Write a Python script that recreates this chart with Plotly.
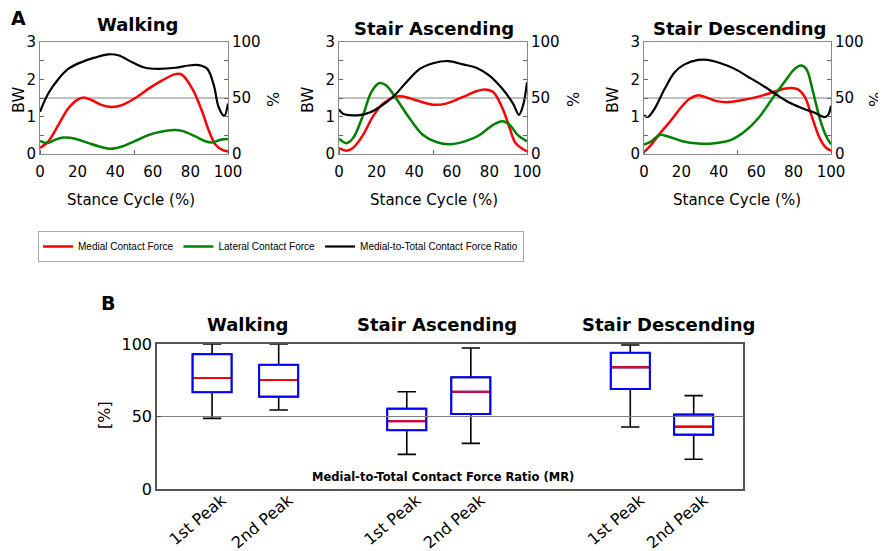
import plotly.graph_objects as go

# ---------------- Panel A data ----------------
walk_med_x = [0, 4.4, 9.8, 15, 20.5, 23.7, 27.6, 33, 38, 43.6, 50.7, 57.8, 65, 72, 75.6, 81, 86.3, 90, 93.4, 97, 100]
walk_med_y = [0.16, 0.34, 0.78, 1.22, 1.47, 1.51, 1.44, 1.31, 1.26, 1.31, 1.50, 1.75, 1.97, 2.14, 2.12, 1.75, 1.13, 0.60, 0.25, 0.11, 0.07]
walk_lat_x = [0, 3.6, 8, 12.5, 18.7, 25.8, 33, 37.4, 43.6, 50.7, 57.8, 65, 71, 75.6, 82.7, 88, 91.6, 96, 100]
walk_lat_y = [0.35, 0.29, 0.38, 0.44, 0.41, 0.29, 0.18, 0.14, 0.20, 0.35, 0.51, 0.60, 0.64, 0.62, 0.47, 0.34, 0.31, 0.38, 0.40]
walk_mr_x = [0, 4.4, 9.8, 15, 22, 29, 36.5, 42, 49, 56, 63, 72, 79, 84.5, 89, 92.5, 95, 98, 100]
walk_mr_y = [37.7, 54, 67, 76, 82, 86, 89, 88, 82, 77, 76, 77, 79, 79.4, 76, 61, 42, 34, 45]

asc_med_x = [0, 3.9, 7.4, 12.8, 18, 23.4, 29.6, 34, 41, 50, 57, 66, 73, 77.5, 82, 87, 90.8, 94, 100]
asc_med_y = [0.16, 0.09, 0.16, 0.51, 1.00, 1.35, 1.53, 1.54, 1.44, 1.32, 1.35, 1.53, 1.68, 1.73, 1.66, 1.22, 0.69, 0.29, 0.07]
asc_lat_x = [0, 3.9, 7.4, 12.8, 17.2, 21.6, 25, 30.5, 37.6, 44.7, 51.8, 58.9, 67.7, 74.8, 82, 87, 90.8, 95, 100]
asc_lat_y = [0.41, 0.29, 0.42, 1.04, 1.66, 1.90, 1.84, 1.48, 0.95, 0.51, 0.32, 0.26, 0.35, 0.51, 0.78, 0.88, 0.78, 0.51, 0.34]
asc_mr_x = [0, 2, 5.7, 11, 16.3, 21.6, 28.7, 35.8, 43, 50, 58, 66, 73, 80, 87, 92.6, 95.7, 98, 100]
asc_mr_y = [40, 36, 34.7, 34.7, 37, 42, 51, 64, 76, 81, 83, 80, 77, 70, 58, 45, 35, 44, 64]

desc_med_x = [0, 3.9, 9.3, 14.6, 20, 24.4, 28.5, 32.4, 39.6, 45, 52, 59, 68, 75, 78.8, 82.4, 86, 89.5, 94, 97.5, 100]
desc_med_y = [0.05, 0.25, 0.60, 0.91, 1.26, 1.48, 1.57, 1.53, 1.41, 1.39, 1.44, 1.51, 1.64, 1.75, 1.77, 1.73, 1.53, 1.04, 0.42, 0.16, 0.09]
desc_lat_x = [0, 3.9, 8.4, 12.8, 20, 29, 37.8, 46.7, 53.8, 61, 68, 75, 80.6, 84, 86.8, 90.4, 94, 97.5, 100]
desc_lat_y = [0.25, 0.34, 0.51, 0.47, 0.35, 0.28, 0.29, 0.38, 0.60, 0.95, 1.44, 1.92, 2.28, 2.37, 2.28, 1.66, 0.95, 0.47, 0.26]
desc_mr_x = [0, 2, 5.7, 11, 16.4, 21.7, 29, 34, 41, 48.5, 55.6, 64.5, 71.7, 78.8, 86, 91, 96.6, 98.4, 100]
desc_mr_y = [34.7, 33, 40.6, 58, 73, 80, 84, 84, 81, 76, 69, 60, 52, 45, 40, 37, 33, 34.7, 43]

panel_titles = ["Walking", "Stair Ascending", "Stair Descending"]
series_names = ["Medial Contact Force", "Lateral Contact Force", "Medial-to-Total Contact Force Ratio"]
x_ticks = [0, 20, 40, 60, 80, 100]

# ---------------- Panel B data ----------------
box_labels = ["1st Peak", "2nd Peak", "1st Peak", "2nd Peak", "1st Peak", "2nd Peak"]
box_q1 = [66.7, 63.7, 40.5, 51.7, 69.0, 37.5]
box_median = [76.5, 75.2, 46.7, 67.1, 83.9, 43.0]
box_q3 = [93.0, 85.7, 55.4, 77.0, 94.0, 51.3]
box_low = [48.7, 54.5, 23.9, 31.5, 42.8, 20.5]
box_high = [100.0, 100.0, 67.1, 97.2, 99.3, 64.4]

# layout-only values
box_pos = [0.86, 1.9, 3.9, 4.9, 7.39, 8.38]
box_w = 0.61

RED = "#ff0000"
GREEN = "#008000"
BLACK = "#000000"
BLUE = "#0000ff"
FONT = "DejaVu Sans"

# page has an 8px body margin: figure is placed at (8, 8)
OFF = 8
W, H = 886 - OFF, 551 - OFF
def px(X):
    return (X - OFF) / W
def py(Y):
    return 1 - (Y - OFF) / H

fig = go.Figure()

panels = [
    (walk_med_x, walk_med_y, walk_lat_x, walk_lat_y, walk_mr_x, walk_mr_y),
    (asc_med_x, asc_med_y, asc_lat_x, asc_lat_y, asc_mr_x, asc_mr_y),
    (desc_med_x, desc_med_y, desc_lat_x, desc_lat_y, desc_mr_x, desc_mr_y),
]

x_domains = [[px(40), px(228)], [px(339), px(527)], [px(644), px(831)]]
yA = [py(154), py(42)]

for i, (mx, my, lx, ly, rx, ry) in enumerate(panels):
    xa = f"x{i+1}" if i else "x"
    ya = f"y{2*i+1}" if i else "y"
    yr = f"y{2*i+2}"
    fig.add_trace(go.Scatter(x=[0, 100], y=[1.5, 1.5], mode="lines", line=dict(color="#808080", width=1),
                             xaxis=xa, yaxis=ya, showlegend=False, hoverinfo="skip"))
    fig.add_trace(go.Scatter(x=mx, y=my, mode="lines", line=dict(color=RED, width=2.5, shape="spline"),
                             name=series_names[0], legendgroup="m", showlegend=(i == 0), xaxis=xa, yaxis=ya))
    fig.add_trace(go.Scatter(x=lx, y=ly, mode="lines", line=dict(color=GREEN, width=2.5, shape="spline"),
                             name=series_names[1], legendgroup="l", showlegend=(i == 0), xaxis=xa, yaxis=ya))
    fig.add_trace(go.Scatter(x=rx, y=ry, mode="lines", line=dict(color=BLACK, width=2.2, shape="spline"),
                             name=series_names[2], legendgroup="r", showlegend=(i == 0), xaxis=xa, yaxis=yr))

axis_common = dict(showgrid=False, zeroline=False, showline=True, linecolor="#8a8a8a", linewidth=1,
                   automargin=False, tickfont=dict(family=FONT, size=15, color="black"))

for i in range(3):
    xk = "xaxis" if i == 0 else f"xaxis{i+1}"
    yk = "yaxis" if i == 0 else f"yaxis{2*i+1}"
    yrk = f"yaxis{2*i+2}"
    ya_name = "y" if i == 0 else f"y{2*i+1}"
    xa_name = "x" if i == 0 else f"x{i+1}"
    fig.layout[xk] = dict(axis_common, domain=x_domains[i], range=[0, 100], anchor=ya_name,
                          tickvals=x_ticks, ticks="", mirror=True,
                          minor=dict(tick0=0, dtick=50, ticks="inside", ticklen=4, tickcolor="#666"),
                          ticklabelstandoff=4)
    fig.layout[yk] = dict(axis_common, domain=yA, range=[0, 3], anchor=xa_name,
                          tickvals=[0, 1, 2, 3], ticks="inside", ticklen=4, tickcolor="#666", mirror="ticks",
                          minor=dict(dtick=0.5, ticks="inside", ticklen=4, tickcolor="#666"))
    fig.layout[yrk] = dict(axis_common, range=[0, 100], overlaying=ya_name, side="right", anchor=xa_name,
                           tickvals=[0, 50, 100], ticks="")

# ---------------- Panel B traces ----------------
fig.add_trace(go.Scatter(x=[0, 9.15], y=[50, 50], mode="lines", line=dict(color="#808080", width=1),
                         xaxis="x4", yaxis="y7", showlegend=False, hoverinfo="skip"))
fig.add_trace(go.Box(x=box_pos, q1=box_q1, median=box_median, q3=box_q3, lowerfence=box_low, upperfence=box_high,
                     width=box_w, whiskerwidth=0.47, line=dict(color=BLACK, width=1.6),
                     fillcolor="rgba(0,0,0,0)", xaxis="x4", yaxis="y7", showlegend=False, boxpoints=False))
fig.add_trace(go.Box(x=box_pos, q1=box_q1, median=box_median, q3=box_q3, lowerfence=box_q1, upperfence=box_q3,
                     width=box_w, whiskerwidth=1, line=dict(color=BLUE, width=2),
                     fillcolor="rgba(255,255,255,0)", xaxis="x4", yaxis="y7", showlegend=False, boxpoints=False))
med_x, med_y = [], []
for p, m in zip(box_pos, box_median):
    med_x += [p - box_w/2 + 0.02, p + box_w/2 - 0.02, None]
    med_y += [m, m, None]
fig.add_trace(go.Scatter(x=med_x, y=med_y, mode="lines", line=dict(color=RED, width=2),
                         xaxis="x4", yaxis="y7", showlegend=False, hoverinfo="skip"))

fig.layout["xaxis4"] = dict(showgrid=False, zeroline=False, showline=True, linecolor="#555", linewidth=1.5, mirror=True,
                            automargin=False,
                            domain=[px(157), px(743)], range=[0, 9.15], anchor="y7",
                            tickvals=box_pos, ticktext=box_labels, tickangle=-40, ticks="",
                            ticklabelstandoff=-6, ticklabelshift=10,
                            tickfont=dict(family=FONT, size=16, color="black"))
fig.layout["yaxis7"] = dict(showgrid=False, zeroline=False, showline=True, linecolor="#555", linewidth=1.5, mirror=True,
                            automargin=False,
                            domain=[py(489), py(344)], range=[0, 100], anchor="x4",
                            tickvals=[0, 50, 100], ticks="inside", ticklen=4, tickcolor="#555",
                            tickfont=dict(family=FONT, size=16, color="black"))

# ---------------- Annotations ----------------
ann = []
def txt(x, y, s, size, bold=False, angle=0):
    ann.append(dict(x=px(x), y=py(y), xref="paper", yref="paper", text=(f"<b>{s}</b>" if bold else s),
                    showarrow=False, font=dict(family=FONT, size=size, color="black"), textangle=angle,
                    xanchor="center", yanchor="middle"))

txt(18, 18, "A", 19, True)
txt(137, 24, panel_titles[0], 18, True)
txt(434, 28, panel_titles[1], 18, True)
txt(739, 28, panel_titles[2], 18, True)
for cx in (18, 307, 612):
    txt(cx, 100, "BW", 16, angle=-90)
for cx in (273, 573, 875):
    txt(cx, 100, "%", 16, angle=-90)
for cx in (131, 434, 737):
    txt(cx, 200, "Stance Cycle (%)", 15)
txt(108, 303, "B", 19, True)
txt(247, 324, panel_titles[0], 18, True)
txt(437, 324, panel_titles[1], 18, True)
txt(668, 324, panel_titles[2], 18, True)
txt(104, 415, "[%]", 16, angle=-90)
txt(443, 477, "Medial-to-Total Contact Force Ratio (MR)", 11.5, True)

fig.update_layout(
    width=W, height=H, margin=dict(l=0, r=0, t=0, b=0),
    paper_bgcolor="white", plot_bgcolor="white",
    annotations=ann,
    boxmode="overlay",
    legend=dict(orientation="h", x=px(38), y=py(231), xanchor="left", yanchor="top",
                bordercolor="#aaaaaa", borderwidth=1, bgcolor="white",
                font=dict(family="Liberation Sans", size=10, color="black"),
                itemwidth=30, tracegroupgap=0),
)

fig.write_html("out.html")
